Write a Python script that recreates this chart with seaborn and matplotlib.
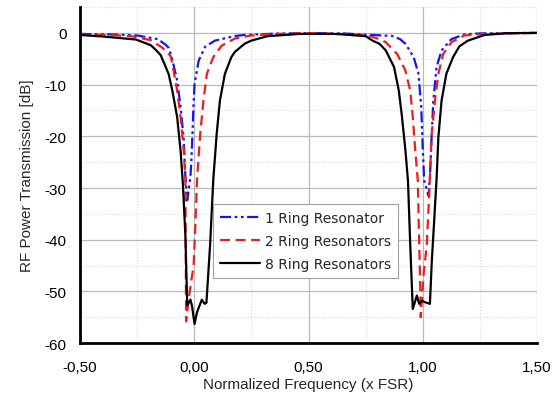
import matplotlib
matplotlib.use('Agg')
import matplotlib.pyplot as plt
import seaborn as sns
import pandas as pd
from matplotlib.ticker import MultipleLocator

# values (normalized frequency, transmission in dB)
ring1_x = [-0.50, -0.35, -0.25, -0.16, -0.125, -0.112, -0.096, -0.075, -0.06, -0.046,
           -0.039, -0.031, -0.017, -0.012, -0.008, -0.004, 0.001, 0.019, 0.047, 0.09,
           0.177, 0.22, 0.35, 0.50, 0.65, 0.78, 0.866, 0.90, 0.924, 0.96, 0.981, 0.993,
           1.0, 1.006, 1.025, 1.031, 1.039, 1.046, 1.06, 1.082, 1.125, 1.182, 1.25, 1.50]
ring1_db = [-0.2, -0.3, -0.5, -1.2, -2.3, -2.9, -5.2, -9.2, -14.3, -20.8,
            -27.9, -32.4, -27.9, -24.0, -19.5, -14.4, -9.9, -5.4, -2.7, -1.5,
            -0.6, -0.4, -0.15, -0.05, -0.1, -0.4, -0.6, -1.2, -2.1, -4.7, -7.9, -14.4,
            -22.8, -28.6, -31.5, -27.9, -19.5, -13.1, -6.6, -3.4, -1.2, -0.3, -0.1, 0.0]

ring2_x = [-0.50, -0.35, -0.276, -0.225, -0.19, -0.139, -0.103, -0.096, -0.075, -0.06,
           -0.046, -0.039, -0.036, -0.02, -0.003, 0.004, 0.012, 0.026, 0.04, 0.055,
           0.083, 0.119, 0.177, 0.25, 0.35, 0.50, 0.65, 0.75, 0.81, 0.838, 0.888, 0.924,
           0.945, 0.956, 0.967, 0.978, 0.981, 0.988, 0.991, 1.003, 1.017, 1.027, 1.031,
           1.039, 1.053, 1.068, 1.089, 1.125, 1.182, 1.27, 1.50]
ring2_db = [-0.3, -0.45, -0.64, -1.1, -1.4, -2.9, -4.5, -6.0, -11.2, -16.3,
            -22.8, -28.0, -55.8, -50.0, -45.0, -37.9, -28.4, -19.5, -13.1, -7.9,
            -4.7, -2.5, -1.1, -0.5, -0.2, -0.05, -0.2, -0.4, -1.2, -1.8, -4.1, -7.3,
            -11.2, -16.3, -22.8, -28.6, -34.7, -47.6, -55.0, -46.9, -41.1, -32.1, -27.9,
            -19.5, -13.1, -7.9, -4.1, -1.8, -0.5, -0.2, 0.0]

ring8_x = [-0.50, -0.40, -0.276, -0.254, -0.19, -0.168, -0.147, -0.125, -0.112, -0.096,
           -0.075, -0.06, -0.05, -0.039, -0.031, -0.017, -0.01, 0.001, 0.012, 0.033,
           0.045, 0.053, 0.069, 0.083, 0.098, 0.112, 0.134, 0.162, 0.177, 0.22, 0.249,
           0.32, 0.46, 0.61, 0.651, 0.75, 0.78, 0.81, 0.838, 0.874, 0.895, 0.909, 0.924,
           0.935, 0.945, 0.956, 0.974, 0.984, 0.996, 1.01, 1.031, 1.039, 1.06, 1.068,
           1.082, 1.103, 1.132, 1.16, 1.197, 1.27, 1.37, 1.50]
ring8_db = [-0.4, -0.7, -1.2, -1.3, -2.4, -3.3, -4.3, -6.6, -8.0, -11.2,
            -16.3, -22.8, -29.2, -39.2, -52.7, -51.6, -52.8, -56.3, -54.0, -51.6,
            -52.4, -52.2, -41.1, -28.4, -19.5, -13.1, -7.9, -4.7, -3.7, -2.1, -1.5,
            -0.64, -0.2, -0.2, -0.3, -0.64, -1.5, -2.1, -3.4, -6.6, -11.2, -16.3, -22.8,
            -28.6, -41.1, -53.4, -50.8, -52.4, -51.8, -52.1, -52.4, -44.4, -28.4, -20.2,
            -13.1, -7.9, -4.7, -2.6, -1.5, -0.4, -0.06, 0.0]

series_names = ['1 Ring Resonator', '2 Ring Resonators', '8 Ring Resonators']
xtick_vals = [-0.5, 0.0, 0.5, 1.0, 1.5]
xtick_labels = ['-0,50', '0,00', '0,50', '1,00', '1,50']
ytick_vals = [0, -10, -20, -30, -40, -50, -60]


def main():
    df = pd.concat([
        pd.DataFrame({'x': ring1_x, 'dB': ring1_db, 'Series': series_names[0]}),
        pd.DataFrame({'x': ring2_x, 'dB': ring2_db, 'Series': series_names[1]}),
        pd.DataFrame({'x': ring8_x, 'dB': ring8_db, 'Series': series_names[2]}),
    ])
    plotting(df)


def plotting(df):
    sns.set_style('white')
    plt.rcParams['font.family'] = ['Liberation Sans', 'DejaVu Sans']

    fig = plt.figure(figsize=(5.52, 4.02), dpi=100)
    ax = fig.add_axes([0.145, 0.144, 0.828, 0.836])

    colors = {series_names[0]: '#1515ee', series_names[1]: '#ee1c1c', series_names[2]: '#000000'}
    dashes = {series_names[0]: (5, 1.6, 1.2, 1.6, 1.2, 1.6), series_names[1]: (4.5, 2.5), series_names[2]: ''}

    sns.lineplot(data=df, x='x', y='dB', hue='Series', style='Series', palette=colors,
                 dashes=dashes, estimator=None, sort=False, linewidth=1.6, ax=ax)

    ax.set_xlim(-0.5, 1.5)
    ax.set_ylim(-60, 5)
    ax.set_xticks(xtick_vals, labels=xtick_labels)
    ax.set_yticks(ytick_vals, labels=[str(v) for v in ytick_vals])
    ax.xaxis.set_minor_locator(MultipleLocator(0.25))
    ax.yaxis.set_minor_locator(MultipleLocator(5))
    ax.tick_params(which='major', direction='out', length=6, width=1.5, labelsize=11, colors='black')
    ax.tick_params(which='minor', direction='out', length=3.5, width=1.2)
    ax.tick_params(axis='x', which='major', pad=6)

    ax.grid(which='major', color='#b8b8b8', linewidth=0.9, linestyle='-')
    ax.grid(which='minor', color='#dadada', linewidth=0.8, linestyle=':')
    ax.set_axisbelow(True)

    for side in ['top', 'right']:
        ax.spines[side].set_visible(False)
    for side in ['left', 'bottom']:
        ax.spines[side].set_linewidth(2)
        ax.spines[side].set_color('black')

    ax.set_xlabel('Normalized Frequency (x FSR)', fontsize=11, labelpad=2)
    ax.set_ylabel('RF Power Transmission [dB]', fontsize=11, labelpad=8)

    leg = ax.legend(loc='upper left', bbox_to_anchor=(0.29, 0.414), borderaxespad=0,
                    fancybox=False, framealpha=1, edgecolor='#a0a0a0', handlelength=2.9,
                    handletextpad=0.4, labelspacing=0.65, borderpad=0.5,
                    prop={'family': 'DejaVu Sans', 'size': 10})
    leg.get_frame().set_linewidth(0.8)

    plt.savefig('out.png', dpi=100)
    plt.close()


if __name__ == '__main__':
    main()
